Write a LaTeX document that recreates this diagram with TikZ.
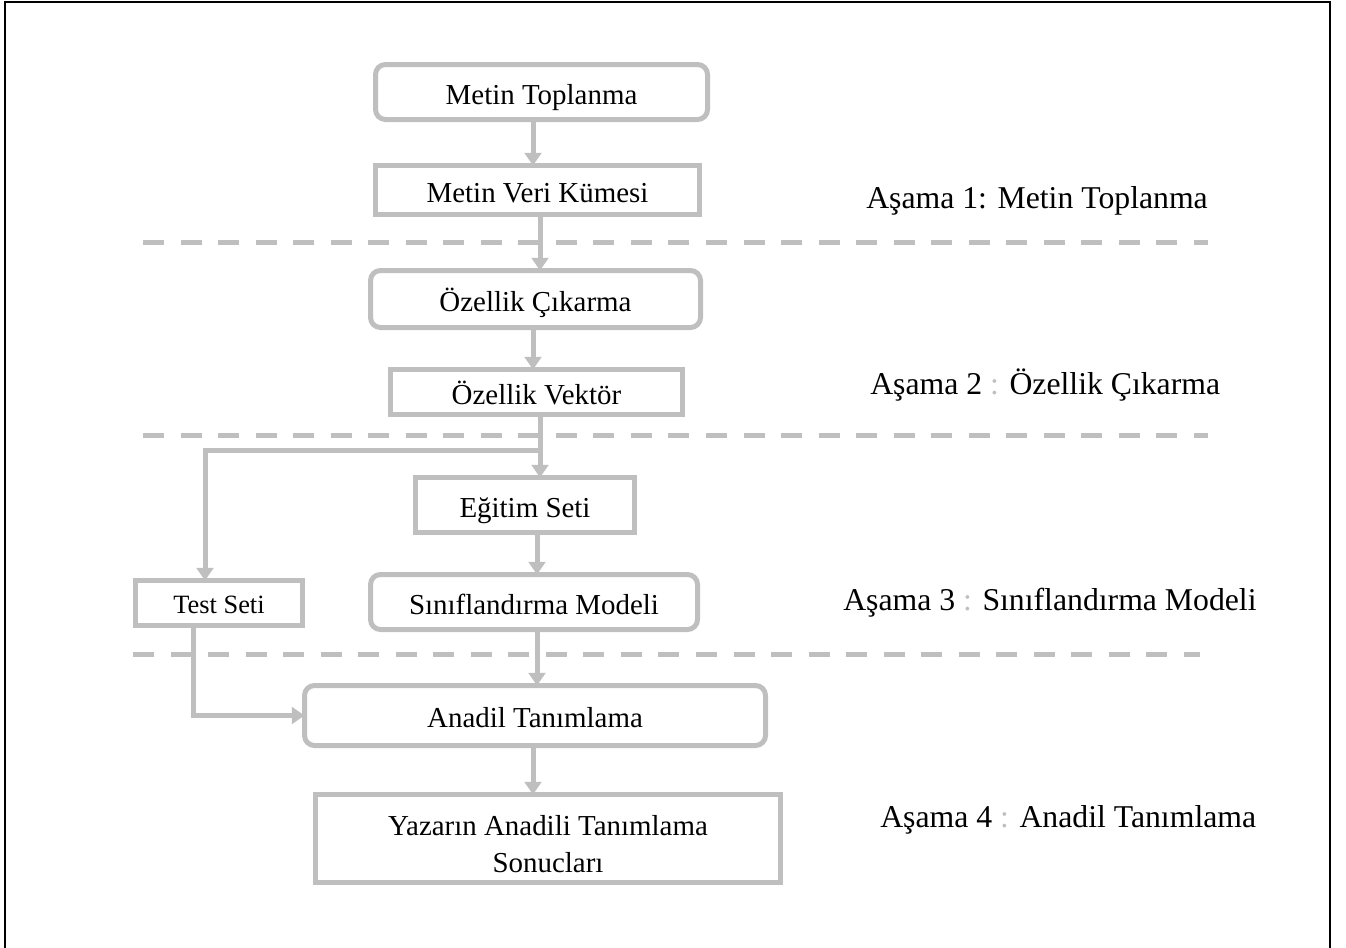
\documentclass[tikz,border=0pt]{standalone}
\usepackage{fontspec}
\setmainfont{Liberation Serif}
\usetikzlibrary{arrows.meta}
\definecolor{lg}{RGB}{191,191,191}
\begin{document}
\begin{tikzpicture}[x=0.75pt,y=-0.75pt,
  box/.style={draw=lg, line width=3.75pt, rectangle, inner sep=0pt, outer sep=0pt,
    font=\fontsize{21.7pt}{26pt}\selectfont, text height=18pt, text depth=0pt},
  rbox/.style={box, rounded corners=7.5pt},
  conn/.style={draw=lg, line width=3.75pt, -{Triangle[width=12.5pt,length=9.5pt]}},
  sep/.style={draw=lg, line width=3.75pt, dash pattern=on 15.75pt off 12.4pt},
  stage/.style={anchor=base west, inner sep=0pt, font=\fontsize{23.8pt}{28pt}\selectfont},
  frame/.style={draw=black, line width=2pt}]
\useasboundingbox (0,0) rectangle (1346,947);
% outer frame
\draw[frame] (5,950) -- (5,2) -- (1330,2) -- (1330,950);
% separators
\draw[sep] (143,242) -- (1208,242);
\draw[sep] (143,435) -- (1208,435);
\draw[sep] (133,654) -- (1200,654);
% boxes
\node[rbox, minimum width=249pt, minimum height=41.25pt] (t1) at (541.5,92) {Metin Toplanma};
\node[box, minimum width=243pt, minimum height=36.75pt] (t2) at (537.5,190) {Metin Veri Kümesi};
\node[rbox, minimum width=247.5pt, minimum height=42.75pt] (t3) at (535.5,299) {Özellik Çıkarma};
\node[box, minimum width=219pt, minimum height=33.75pt] (t4) at (536.5,392) {Özellik Vektör};
\node[box, minimum width=164.25pt, minimum height=41.25pt] (t5) at (525,505) {Eğitim Seti};
\node[box, minimum width=125.25pt, minimum height=33.75pt, font=\fontsize{19.8pt}{24pt}\selectfont, text height=15pt] (t6) at (219,603) {Test Seti};
\node[rbox, minimum width=245.25pt, minimum height=41.25pt] (t7) at (534,602) {Sınıflandırma Modeli};
\node[rbox, minimum width=345.75pt, minimum height=45pt] (t8) at (535,715.5) {Anadil Tanımlama};
\node[box, minimum width=348.75pt, minimum height=66pt, font=\fontsize{21.7pt}{27.75pt}\selectfont, text height=12pt, text depth=17.25pt] (t9) at (548,838.5) {\begin{tabular}[t]{@{}c@{}}Yazarın Anadili Tanımlama\\Sonucları\end{tabular}};
% x positions of connectors
\coordinate (c533) at (533,0);
\coordinate (c537) at (537,0);
\coordinate (c540) at (540,0);
\coordinate (c205) at (205,0);
\coordinate (c193) at (193,0);
\coordinate (br) at (540,450);
% connectors
\draw[conn] (t1.south -| c533) -- (t2.north -| c533);
\draw[conn] (t2.south -| c540) -- (t3.north -| c540);
\draw[conn] (t3.south -| c533) -- (t4.north -| c533);
\draw[conn] (t4.south -| c540) -- (t5.north -| c540);
\draw[conn] (br) -| (t6.north -| c205);
\draw[conn] (t5.south -| c537) -- (t7.north -| c537);
\draw[conn] (t7.south -| c537) -- (t8.north -| c537);
\draw[conn] (t6.south -| c193) |- (t8.west);
\draw[conn] (t8.south -| c533) -- (t9.north -| c533);
% stage labels
\node[stage] (s1) at (866,208) {Aşama 1: Metin Toplanma};
\node[stage] (s2) at (870,394) {Aşama 2 {\color{lg}:} Özellik Çıkarma};
\node[stage] (s3) at (843,610) {Aşama 3 {\color{lg}:} Sınıflandırma Modeli};
\node[stage] (s4) at (880,827) {Aşama 4 {\color{lg}:} Anadil Tanımlama};
\end{tikzpicture}
\end{document}
